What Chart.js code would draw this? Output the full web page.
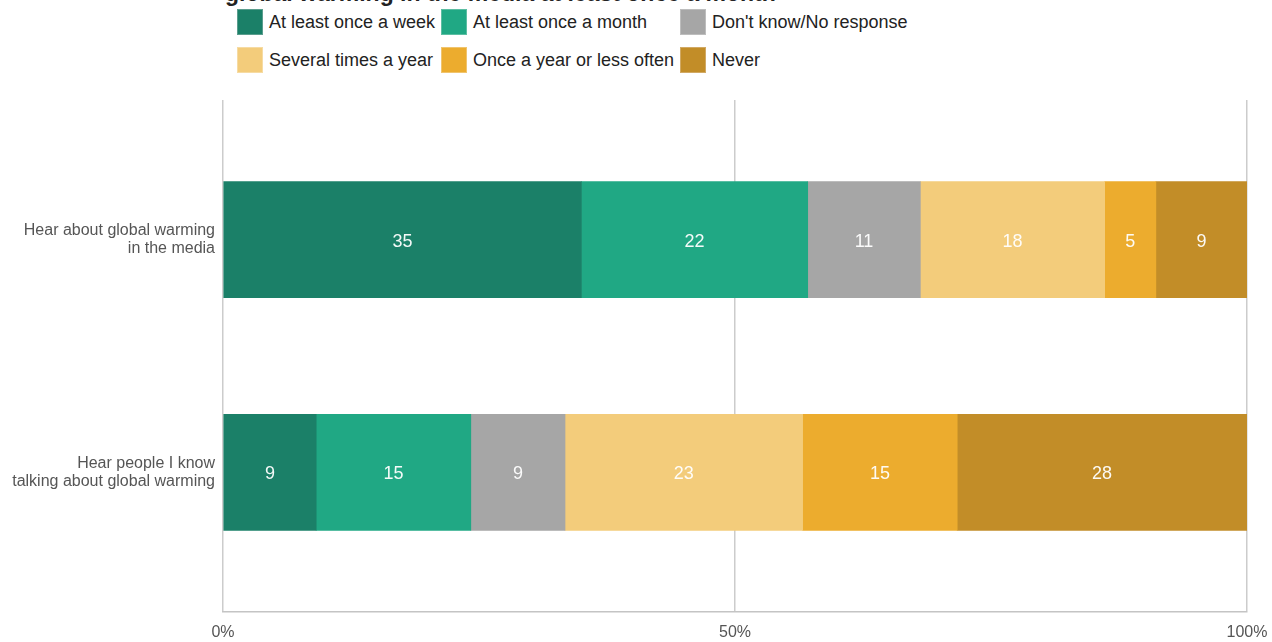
<!DOCTYPE html>
<html>
<head>
<meta charset="utf-8">
<script src="https://cdn.jsdelivr.net/npm/chart.js@4/dist/chart.umd.min.js"></script>
<style>
  html, body { margin: 0; padding: 0; background: #fff; overflow: hidden; }
  #wrap { position: relative; width: 1272px; height: 642px; }
  #title { position: absolute; left: 225px; top: -18px; font: bold 23px "Liberation Sans", Arial, sans-serif; line-height: 23px; color: #222; white-space: nowrap; }
  #legend { position: absolute; left: 237px; top: 9px; display: grid; grid-template-columns: 204px 239px auto; row-gap: 12px; font: 18px "Liberation Sans", Arial, sans-serif; color: #222; }
  .item { display: flex; align-items: center; height: 26px; white-space: nowrap; }
  .box { width: 24px; height: 24px; border: 1px solid; margin-right: 6px; flex: none; }
  canvas { position: absolute; left: 0; top: 0; }
</style>
</head>
<body>
<div id="wrap">
  <div id="title">global warming in the media at least once a month</div>
  <div id="legend"></div>
  <canvas id="c" width="1272" height="642"></canvas>
</div>
<script>
const categories = [
  ["Hear about global warming", "in the media"],
  ["Hear people I know", "talking about global warming"]
];
const seriesNames = ["At least once a week", "At least once a month", "Don't know/No response",
                     "Several times a year", "Once a year or less often", "Never"];
const atLeastOnceAWeek    = [35.0, 9.1];
const atLeastOnceAMonth   = [22.1, 15.1];
const dontKnowNoResponse  = [11.0, 9.2];
const severalTimesAYear   = [18.0, 23.2];
const onceAYearOrLess     = [5.0, 15.1];
const never               = [8.9, 28.3];
const xTickValues = [0, 50, 100];

const seriesValues = [atLeastOnceAWeek, atLeastOnceAMonth, dontKnowNoResponse,
                      severalTimesAYear, onceAYearOrLess, never];
const colors = ["#1b8068", "#20a884", "#a6a6a6", "#f3cc7b", "#ecac2e", "#c28d28"];
const borders = ["#5a9d8d", "#5cbea2", "#bdbdbd", "#f6dba3", "#f0c46e", "#d1a964"];

const legend = document.getElementById('legend');
seriesNames.forEach((name, i) => {
  const d = document.createElement('div');
  d.className = 'item';
  const b = document.createElement('span');
  b.className = 'box';
  b.style.background = colors[i];
  b.style.borderColor = borders[i];
  const t = document.createElement('span');
  t.textContent = name;
  d.appendChild(b); d.appendChild(t);
  legend.appendChild(d);
});

const datasets = seriesValues.map((vals, s) => ({
  label: seriesNames[s],
  data: vals.map((v, i) => ({ x: v, y: i })),
  backgroundColor: colors[s],
  borderWidth: 0,
  barThickness: 116
}));

const valueLabels = {
  id: 'valueLabels',
  afterDatasetsDraw(chart) {
    const ctx = chart.ctx;
    ctx.save();
    ctx.font = '18px "Liberation Sans", Arial, sans-serif';
    ctx.fillStyle = 'rgba(255,255,255,0.95)';
    ctx.textAlign = 'center';
    ctx.textBaseline = 'middle';
    chart.data.datasets.forEach((ds, di) => {
      const meta = chart.getDatasetMeta(di);
      meta.data.forEach((el, i) => {
        const v = ds.data[i].x;
        const cx = (el.x + el.base) / 2;
        ctx.fillText(String(Math.round(v)), cx, el.y + 2);
      });
    });
    ctx.restore();
  }
};

new Chart(document.getElementById('c'), {
  type: 'bar',
  data: { datasets },
  options: {
    indexAxis: 'y',
    responsive: false,
    animation: false,
    layout: { padding: { top: 100, right: 25, bottom: 0, left: 0 } },
    plugins: { legend: { display: false }, tooltip: { enabled: false }, title: { display: false } },
    scales: {
      x: {
        type: 'linear',
        stacked: true,
        min: 0, max: 100,
        afterBuildTicks: s => { s.ticks = xTickValues.map(v => ({ value: v })); },
        afterFit: s => { s.height = 30; s.paddingRight = 0; },
        ticks: {
          callback: v => v + '%',
          color: '#555',
          font: { family: '"Liberation Sans", Arial, sans-serif', size: 16 },
          padding: 11,
          maxRotation: 0
        },
        grid: { color: '#cccccc', lineWidth: 1.5, drawTicks: false },
        border: { display: true, color: '#c4c4c4', width: 1.5 }
      },
      y: {
        type: 'linear',
        stacked: true,
        reverse: true,
        offset: false,
        min: -0.6, max: 1.6,
        afterBuildTicks: s => { s.ticks = categories.map((_, i) => ({ value: i })); },
        afterFit: s => { s.width = 223; },
        ticks: {
          callback: v => categories[v],
          color: '#555',
          font: { family: '"Liberation Sans", Arial, sans-serif', size: 16, lineHeight: 1.15 },
          padding: 8
        },
        grid: { display: false, drawTicks: false },
        border: { display: false }
      }
    }
  },
  plugins: [valueLabels]
});
</script>
</body>
</html>
